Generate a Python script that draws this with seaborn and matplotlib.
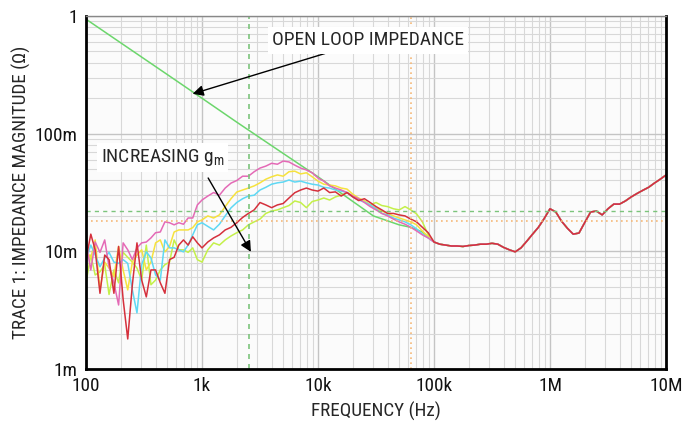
import numpy as np
import pandas as pd
import seaborn as sns
import matplotlib.pyplot as plt

# frequency points (Hz) up to 100k, one list per trace below
freq_lo = [100, 110, 120, 132, 145, 158, 174, 191, 209, 229, 251, 275, 302, 331, 363,
           398, 437, 479, 525, 575, 631, 692, 759, 832, 912,
           1000, 1122, 1259, 1413, 1585, 1778, 1995, 2239, 2512, 2818, 3162, 3548, 3981,
           4467, 5012, 5623, 6310, 7079, 7943, 8913,
           10000, 11220, 12590, 14130, 15850, 17780, 19950, 22390, 25120, 28180, 31620,
           35480, 39810, 44670, 50120, 56230, 63100, 70790, 79430, 89130]

# above 100k all traces sit on top of each other
freq_tail = [1.0e5, 1.122e5, 1.259e5, 1.413e5, 1.585e5, 1.778e5, 1.995e5, 2.239e5, 2.512e5,
             2.818e5, 3.162e5, 3.548e5, 3.981e5, 4.467e5, 5.012e5, 5.623e5, 6.31e5, 7.079e5,
             7.943e5, 8.913e5, 1.0e6, 1.122e6, 1.259e6, 1.413e6, 1.585e6, 1.778e6, 1.995e6,
             2.239e6, 2.512e6, 2.818e6, 3.162e6, 3.548e6, 3.981e6, 4.467e6, 5.012e6, 5.623e6,
             6.31e6, 7.079e6, 7.943e6, 8.913e6, 1.0e7]
tail_mohm = [12, 11.5, 11.3, 11.1, 11.1, 11, 11.2, 11.3, 11.5, 11.5, 11.7, 11.5, 10.8, 10.3,
             9.9, 10.7, 12.2, 14, 16, 19, 23, 21.6, 18, 15.7, 14, 14.3, 17.6, 21.6, 22, 20.4,
             23, 25.2, 25.2, 26.8, 29, 31, 33, 35, 38, 41, 44.5]

# impedance in milliohm
pink_mohm = [11.8, 6.95, 12, 9.8, 12.5, 7.4, 5.4, 3.5, 11.8, 10.3, 8.5, 10.7, 11.8, 12, 13,
             14.4, 14.6, 17.8, 17.5, 16.8, 17.5, 17, 19.2, 19.2, 24.8,
             27.3, 29.5, 31.6, 30, 34.5, 38, 40, 43.5, 43.5, 47.5, 51, 53, 56, 55, 58.5,
             57.5, 54, 51, 49.2, 46.5,
             42, 39.5, 36, 34.5, 33.2, 31.6, 29.5, 28, 26, 24, 22.5, 21, 20, 18.8, 17.8,
             17, 16, 14.9, 13.8, 13]
yellow_mohm = [10.3, 8.8, 12.5, 4.7, 8.1, 7.2, 6.1, 11, 6.95, 4.7, 8.1, 9.3, 10.3, 6.95, 8.1,
               11.8, 12.5, 9.9, 11, 14.6, 15.2, 15.2, 15.2, 15.9, 17.8,
               18.5, 20, 19.2, 20.4, 24, 28, 31.9, 33.2, 34.5, 36, 38.2, 41, 43, 44.6, 43.5,
               47.5, 48, 45.5, 46.5, 43,
               39.5, 37.2, 36.6, 36, 34.5, 33.8, 30.6, 28.4, 26.8, 24.8, 23.3, 22, 21, 20,
               19.2, 18.5, 17.8, 16.8, 14.9, 13.3]
cyan_mohm = [8.5, 11.3, 9.3, 7.4, 8.8, 9.8, 8.1, 7.9, 8.5, 7.9, 4.7, 3.0, 7.7, 9.9, 8.8,
             6.3, 5.7, 12.5, 10.7, 10.7, 10.3, 9.9, 11.3, 13.8, 16.8,
             17.5, 16.3, 15.2, 17, 20, 23.4, 26, 28, 29.5, 30, 33.2, 35, 37.2, 38.2, 38.8,
             40.4, 38.8, 39.5, 38.2, 37.2,
             36.6, 35, 34.5, 33.2, 32.5, 31.6, 29, 27.3, 26.2, 24.8, 23, 21, 20.4, 19.2,
             18.5, 17.8, 16.8, 15.5, 14, 13]
red_mohm = [8.5, 14, 10.3, 4.4, 9.3, 8.5, 4.4, 11, 3.9, 1.8, 5.2, 11.8, 5.7, 4.1, 6.95,
            6.95, 5.4, 4.4, 8.5, 8.9, 11.3, 12.5, 11.3, 13.3, 11.8,
            10.7, 12, 13, 13.8, 15.2, 16, 17.5, 19.4, 21, 22.5, 26, 24.8, 23.5, 24.8, 25.5,
            28.4, 31.5, 33.2, 34.5, 33.2,
            32.5, 34.5, 31.6, 32, 29.5, 31.6, 29, 27, 28, 26, 24, 22.5, 21, 21, 20.4, 20,
            18.8, 17.8, 16, 14.4]
lime_mohm = [5.4, 9.3, 6.3, 6.7, 7.7, 4.3, 6.95, 5.4, 9.8, 8.9, 8.1, 7.2, 5.7, 11.3, 5.2,
             5.7, 6.95, 7.7, 8.1, 12.5, 10.3, 10.3, 9.8, 10.7, 8.5,
             8.1, 10.3, 11.8, 11.3, 12.5, 13.5, 14.4, 15.2, 16.8, 17.8, 18.8, 21, 22, 22.5,
             23.5, 24.5, 26.8, 26, 23.5, 26.5,
             27.3, 28.4, 27.3, 29, 30, 31.6, 29.5, 28, 26.8, 24.8, 26, 24.5, 24, 23, 22.5,
             24, 22.5, 20.8, 17.8, 13.8]

# open loop impedance
open_freq = [100, 200, 500, 1000, 2000, 5000, 10000, 20000, 30000, 50000, 63100, 79430]
open_mohm = [940, 590, 319, 200, 125, 68, 43, 26.5, 20, 16.8, 16, 14.6]

x_ticks = [1e2, 1e3, 1e4, 1e5, 1e6, 1e7]
x_labels = ["100", "1k", "10k", "100k", "1M", "10M"]
y_ticks = [1e-3, 1e-2, 1e-1, 1]
y_labels = ["1m", "10m", "100m", "1"]

sns.set_style("white")
plt.rcParams['font.family'] = ['Roboto Condensed', 'DejaVu Sans']
plt.rcParams['mathtext.fontset'] = 'custom'
plt.rcParams['mathtext.rm'] = 'Roboto Condensed'
plt.rcParams['mathtext.it'] = 'Roboto Condensed'

fig = plt.figure(figsize=(6.95, 4.24), dpi=100)
ax = fig.add_axes([86 / 695, 1 - 369 / 424, 580 / 695, 353 / 424])
ax.set_facecolor("#fbfbfb")


def trace(freqs, mohm, tail=True):
    f = list(freqs) + (freq_tail if tail else [])
    z = list(mohm) + (tail_mohm if tail else [])
    return pd.DataFrame({"freq": f, "z": np.array(z) / 1000.0})


series = [
    (trace(open_freq, open_mohm), "#6cd66c"),
    (trace(freq_lo, lime_mohm), "#c4f04a"),
    (trace(freq_lo, yellow_mohm), "#f6e23e"),
    (trace(freq_lo, cyan_mohm), "#5fd8f4"),
    (trace(freq_lo, pink_mohm), "#e46ab6"),
    (trace(freq_lo, red_mohm), "#d5303c"),
]
for df, col in series:
    sns.lineplot(data=df, x="freq", y="z", color=col, lw=1.1, ax=ax,
                 estimator=None, sort=False)

ax.set_xscale("log")
ax.set_yscale("log")
ax.set_xlim(100, 1e7)
ax.set_ylim(1e-3, 1)

# reference markers
ax.axvline(2540, color="#7cc47c", ls=(0, (3, 3)), lw=1.2)
ax.axhline(0.022, color="#7cc47c", ls=(0, (3, 3)), lw=1.0)
ax.axvline(63000, color="#f5b878", ls=(0, (1, 2)), lw=1.2)
ax.axhline(0.0181, color="#f5b878", ls=(0, (1, 2)), lw=1.2)

ax.grid(which="major", color="#c4c4c4", lw=1.0)
ax.grid(which="minor", color="#d8d8d8", lw=0.8)
ax.set_axisbelow(True)

ax.set_xticks(x_ticks)
ax.set_xticklabels(x_labels)
ax.set_yticks(y_ticks)
ax.set_yticklabels(y_labels)
ax.tick_params(which="both", length=0, labelsize=13.8, colors="#111111", pad=6)

for s in ["left", "bottom", "right"]:
    ax.spines[s].set_color("black")
    ax.spines[s].set_linewidth(2)
ax.spines["top"].set_color("#888888")
ax.spines["top"].set_linewidth(1)

ax.set_xlabel("FREQUENCY (Hz)", fontsize=13.8, labelpad=5)
ax.set_ylabel("TRACE 1: IMPEDANCE MAGNITUDE (Ω)", fontsize=13.8, labelpad=3)

ax.annotate("OPEN LOOP IMPEDANCE", xy=(830, 0.218), xytext=(4000, 0.62),
            fontsize=14, ha="left", va="center",
            bbox=dict(facecolor="white", edgecolor="none", pad=3),
            arrowprops=dict(arrowstyle="-|>", color="black", lw=1.0,
                            shrinkA=0, shrinkB=0, mutation_scale=16))
ax.annotate(r"INCREASING g$_\mathregular{m}$", xy=(2640, 0.0099), xytext=(455, 0.063),
            fontsize=14, ha="center", va="center",
            bbox=dict(facecolor="white", edgecolor="none", pad=3))
ax.annotate("", xy=(2640, 0.0099), xytext=(1130, 0.042),
            arrowprops=dict(arrowstyle="-|>", color="black", lw=1.0,
                            shrinkA=0, shrinkB=0, mutation_scale=16))

fig.savefig("out.png", dpi=100)
